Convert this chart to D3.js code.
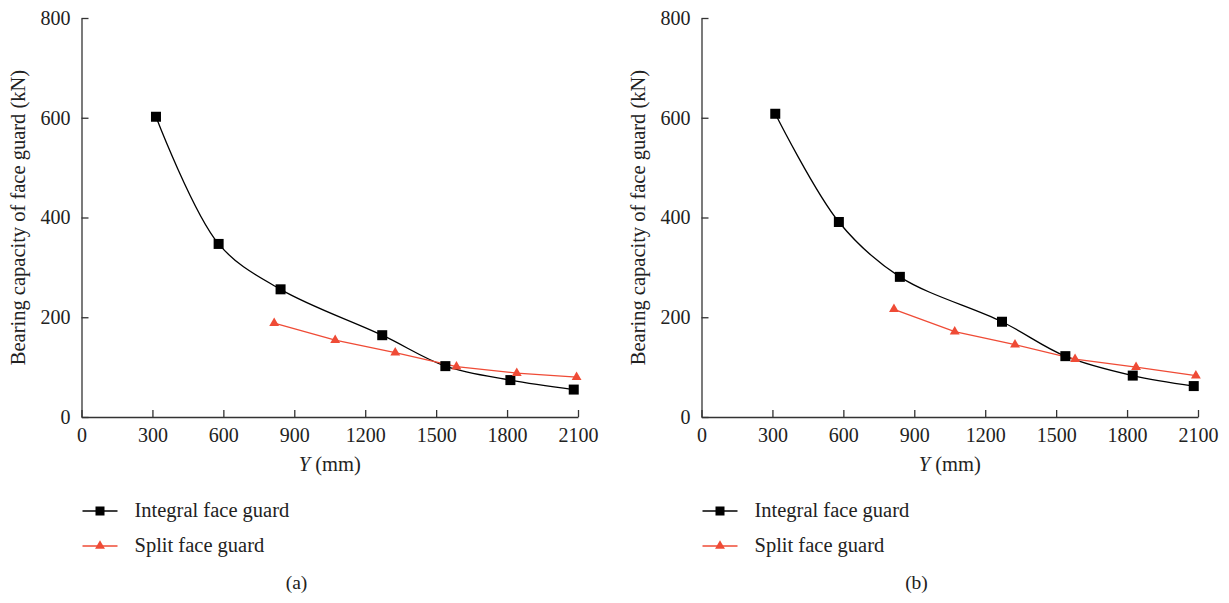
<!DOCTYPE html>
<html>
<head>
<meta charset="utf-8">
<script src="https://cdn.jsdelivr.net/npm/d3@7"></script>
<style>
  body { margin: 0; background: #fff; }
  svg text { font-family: "Liberation Serif", "DejaVu Serif", serif; fill: #222; }
</style>
</head>
<body>
<svg id="chart" width="1229" height="603"></svg>
<script>
// data
let xTicks = [0, 300, 600, 900, 1200, 1500, 1800, 2100];
let yTicks = [0, 200, 400, 600, 800];

let integralA = [[315, 602], [580, 347], [842, 256], [1272, 164], [1539, 102], [1814, 74], [2082, 55]];
let splitA = [[815, 188], [1073, 154], [1327, 129], [1586, 101], [1841, 88], [2094, 80]];

let integralB = [[312, 608], [581, 391], [839, 281], [1271, 191], [1539, 122], [1824, 83], [2082, 62]];
let splitB = [[814, 216], [1071, 171], [1326, 145], [1580, 116], [1838, 100], [2091, 83]];

let seriesNames = ["Integral face guard", "Split face guard"];
let panelNames = ["(a)", "(b)"];

let black = "#000";
let red = "#ef4b36";

let svg = d3.select("#chart");

let panels = [
  {left: 81.5, integral: integralA, split: splitA, label: panelNames[0]},
  {left: 701.5, integral: integralB, split: splitB, label: panelNames[1]}
];

let plotW = 496.5, plotTop = 18, plotBottom = 417;
let serif = "'Liberation Serif', 'DejaVu Serif', serif";

panels.forEach(p => {
  let g = svg.append("g").attr("transform", "translate(" + p.left + ",0)");

  let x = d3.scaleLinear().domain([0, 2100]).range([0, plotW]);
  let y = d3.scaleLinear().domain([0, 800]).range([plotBottom, plotTop]);

  let xAxis = g.append("g")
    .attr("transform", "translate(0," + plotBottom + ")")
    .call(d3.axisBottom(x).tickValues(xTicks).tickFormat(d3.format("d"))
      .tickSizeInner(-7).tickSizeOuter(0).tickPadding(11));

  let yAxis = g.append("g")
    .call(d3.axisLeft(y).tickValues(yTicks).tickFormat(d3.format("d"))
      .tickSizeInner(-7).tickSizeOuter(0).tickPadding(11));

  [xAxis, yAxis].forEach(a => {
    a.attr("font-family", serif).attr("font-size", 20);
    a.selectAll("path, line").attr("stroke", "#333").attr("stroke-width", 1.3);
    a.selectAll("text").attr("fill", "#222").style("font-family", serif).style("font-size", "20px");
  });

  // axis titles
  let xt = g.append("text")
    .attr("x", plotW / 2)
    .attr("y", 471)
    .attr("text-anchor", "middle")
    .style("font-size", "20.5px");
  xt.append("tspan").style("font-style", "italic").text("Y");
  xt.append("tspan").text(" (mm)");

  g.append("text")
    .attr("transform", "translate(-57," + ((plotTop + plotBottom) / 2) + ") rotate(-90)")
    .attr("text-anchor", "middle")
    .style("font-size", "20.5px")
    .text("Bearing capacity of face guard (kN)");

  let curved = d3.line().curve(d3.curveCatmullRom.alpha(0.5)).x(d => x(d[0])).y(d => y(d[1]));
  let straight = d3.line().x(d => x(d[0])).y(d => y(d[1]));

  g.append("path")
    .attr("d", curved(p.integral))
    .attr("fill", "none")
    .attr("stroke", black)
    .attr("stroke-width", 1.3);

  g.append("path")
    .attr("d", straight(p.split))
    .attr("fill", "none")
    .attr("stroke", red)
    .attr("stroke-width", 1.3);

  g.selectAll(".sq")
    .data(p.integral)
    .enter()
    .append("rect")
    .attr("class", "sq")
    .attr("x", d => x(d[0]) - 5)
    .attr("y", d => y(d[1]) - 5)
    .attr("width", 10)
    .attr("height", 10)
    .attr("fill", black);

  let tri = d3.symbol().type(d3.symbolTriangle).size(42);
  g.selectAll(".tri")
    .data(p.split)
    .enter()
    .append("path")
    .attr("class", "tri")
    .attr("d", tri)
    .attr("transform", d => "translate(" + x(d[0]) + "," + y(d[1]) + ")")
    .attr("fill", red);

  // legend
  let leg = g.append("g").attr("transform", "translate(0,511)");
  [{name: seriesNames[0], c: black, sym: "sq"}, {name: seriesNames[1], c: red, sym: "tri"}].forEach((s, i) => {
    let row = leg.append("g").attr("transform", "translate(0," + (i * 35) + ")");
    row.append("line").attr("x1", 1).attr("x2", 36).attr("y1", 0).attr("y2", 0)
      .attr("stroke", s.c).attr("stroke-width", 1.3);
    if (s.sym == "sq") {
      row.append("rect").attr("x", 14).attr("y", -4.5).attr("width", 9).attr("height", 9).attr("fill", s.c);
    } else {
      row.append("path").attr("d", tri).attr("transform", "translate(18.5,0)").attr("fill", s.c);
    }
    row.append("text").attr("x", 53).attr("y", 6).style("font-size", "20.5px").text(s.name);
  });

  g.append("text")
    .attr("x", 215)
    .attr("y", 589)
    .attr("text-anchor", "middle")
    .style("font-size", "19.5px")
    .text(p.label);
});
</script>
</body>
</html>
